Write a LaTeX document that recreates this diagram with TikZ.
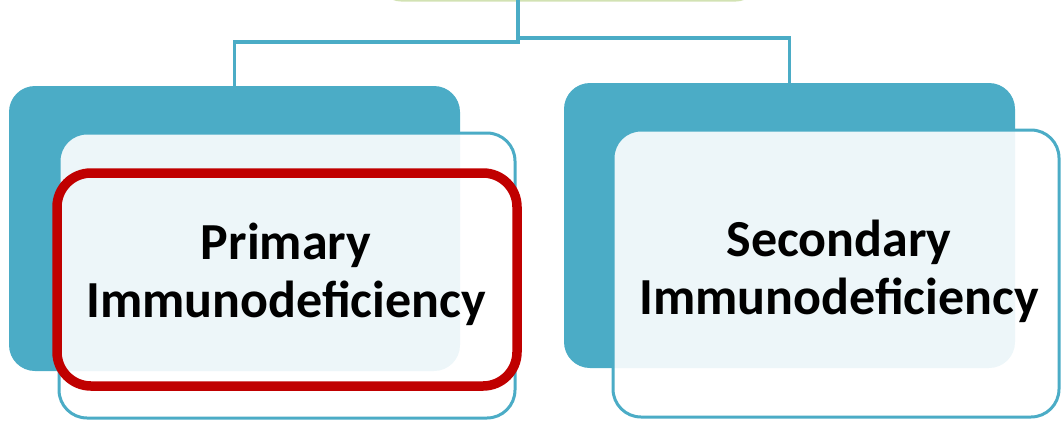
\documentclass[tikz,border=0pt]{standalone}
\usepackage{fontspec}
\setmainfont{Carlito}
\definecolor{teal1}{HTML}{4BACC6}
\definecolor{redb}{HTML}{C00000}
\definecolor{greenb}{HTML}{D2E2B3}
\begin{document}
\begin{tikzpicture}[x=1pt,y=-1pt,
  backbox/.style={fill=teal1, rounded corners=26pt},
  frontbox/.style={draw=teal1, line width=3pt, fill=white, fill opacity=0.9, draw opacity=1, rounded corners=28pt},
  redbox/.style={draw=redb, line width=9.5pt, rounded corners=34pt},
  conn/.style={draw=teal1, line width=3.8pt},
  lbl/.style={font=\fontsize{52}{58}\selectfont\bfseries, align=center, text=black}
]
\useasboundingbox (0,0) rectangle (1062,421);
\clip (0,0) rectangle (1062,421);
% top box (mostly above the picture)
\draw[greenb, line width=3pt, fill=white, rounded corners=20pt] (381,-80) rectangle (756,0);
\coordinate (top) at (518,0);
% left branch
\path[backbox] (9,86) rectangle (460,371);
\coordinate (lb) at (234.5,86);
\draw[frontbox] (59,133) rectangle (515,418);
\node[lbl] (ltxt) at (286,274) {Primary\\Immunodeficiency};
\draw[redbox] (57,173) rectangle (517,386);
% right branch
\path[backbox] (564,83) rectangle (1015,368);
\coordinate (rb) at (789.5,83);
\draw[frontbox] (613,130) rectangle (1059,417);
\node[lbl] (rtxt) at (839,271) {Secondary\\Immunodeficiency};
% connectors
\draw[conn] (top) -- (518,42) -| ([yshift=-6pt]lb);
\draw[conn] (518,38) -| ([yshift=-4pt]rb);
\end{tikzpicture}
\end{document}
